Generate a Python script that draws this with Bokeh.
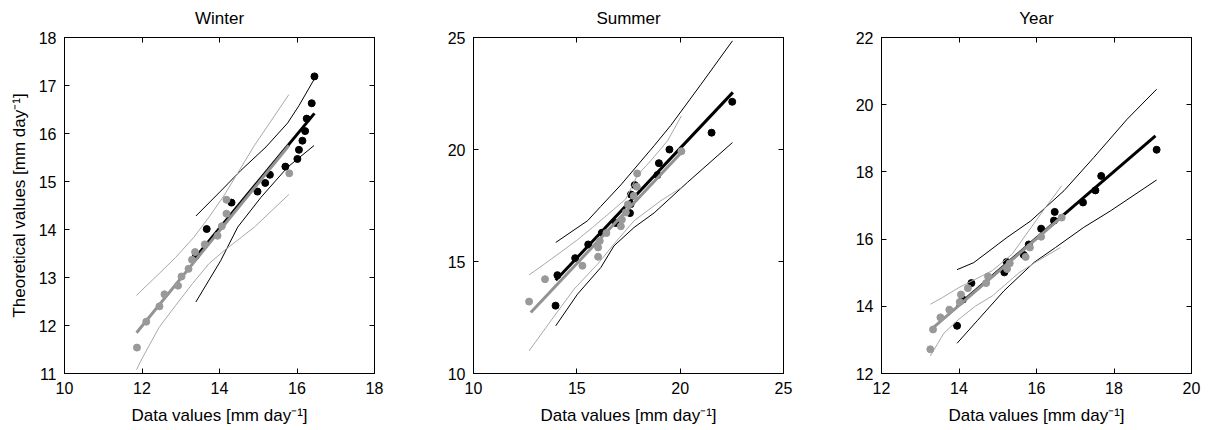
from bokeh.plotting import figure
from bokeh.layouts import row
from bokeh.models import LinearAxis, FixedTicker, CustomLabelingPolicy
from bokeh.embed import file_html
from bokeh.resources import INLINE

# ---------------- Winter ----------------
w_black_x = [13.39, 13.67, 14.31, 14.98, 15.18, 15.30, 15.70, 16.01, 16.05, 16.14, 16.21, 16.25, 16.38, 16.45]
w_black_y = [13.45, 14.01, 14.56, 14.79, 14.97, 15.14, 15.31, 15.47, 15.66, 15.85, 16.05, 16.31, 16.63, 17.19]
w_gray_x = [11.87, 12.11, 12.45, 12.58, 12.93, 13.02, 13.20, 13.29, 13.37, 13.62, 13.95, 14.06, 14.18, 14.18, 15.80]
w_gray_y = [11.54, 12.08, 12.40, 12.65, 12.83, 13.02, 13.18, 13.37, 13.53, 13.69, 13.87, 14.07, 14.33, 14.62, 15.17]
w_black_fit_x = [13.39, 16.45]
w_black_fit_y = [13.43, 16.42]
w_gray_fit_x = [11.86, 15.79]
w_gray_fit_y = [11.85, 15.75]
w_black_up_x = [13.39, 14.03, 14.55, 15.20, 15.76, 16.05, 16.45]
w_black_up_y = [14.28, 14.80, 15.23, 15.72, 16.22, 16.58, 17.14]
w_black_lo_x = [13.39, 14.03, 14.47, 15.07, 15.76, 16.44]
w_black_lo_y = [12.49, 13.35, 14.05, 14.67, 15.30, 15.75]
w_gray_up_x = [11.86, 12.44, 12.87, 13.34, 13.73, 14.12, 14.90, 15.79]
w_gray_up_y = [12.63, 13.08, 13.42, 13.84, 14.26, 14.71, 15.75, 16.81]
w_gray_lo_x = [11.86, 12.00, 12.44, 12.87, 13.30, 13.73, 14.12, 14.90, 15.79]
w_gray_lo_y = [11.08, 11.31, 11.96, 12.42, 12.87, 13.29, 13.56, 14.05, 14.73]

# ---------------- Summer ----------------
s_black_x = [13.97, 14.06, 14.92, 15.55, 16.21, 16.88, 17.57, 17.60, 17.62, 17.80, 18.90, 18.97, 19.48, 21.52, 22.52]
s_black_y = [13.03, 14.39, 15.15, 15.76, 16.28, 16.72, 17.16, 17.56, 17.99, 18.41, 18.86, 19.39, 20.00, 20.75, 22.13]
s_gray_x = [12.69, 13.46, 15.27, 16.03, 16.03, 16.11, 16.43, 17.13, 17.18, 17.37, 17.47, 17.75, 17.90, 17.92, 20.06]
s_gray_y = [13.21, 14.21, 14.81, 15.21, 15.63, 15.92, 16.27, 16.57, 16.87, 17.19, 17.55, 17.93, 18.34, 18.93, 19.92]
s_black_fit_x = [13.98, 22.55]
s_black_fit_y = [14.16, 22.55]
s_gray_fit_x = [12.77, 20.06]
s_gray_fit_y = [12.72, 19.87]
s_black_up_x = [13.98, 15.52, 16.16, 17.13, 18.74, 19.55, 21.00, 22.53]
s_black_up_y = [15.85, 16.82, 17.46, 18.42, 20.17, 21.08, 22.90, 24.85]
s_black_lo_x = [13.98, 15.03, 16.16, 16.80, 17.77, 18.74, 20.35, 22.53]
s_black_lo_y = [12.13, 13.54, 14.73, 15.70, 16.52, 17.17, 18.53, 20.31]
s_gray_up_x = [12.69, 13.42, 14.14, 15.00, 15.76, 16.50, 17.37, 17.93, 18.58, 19.39, 20.06]
s_gray_up_y = [14.40, 14.88, 15.36, 15.95, 16.52, 17.10, 17.79, 18.85, 19.50, 20.39, 21.50]
s_gray_lo_x = [12.69, 13.74, 14.87, 16.00, 16.80, 17.77, 19.06, 20.06]
s_gray_lo_y = [11.01, 12.35, 13.77, 14.88, 15.78, 16.82, 17.71, 18.30]

# ---------------- Year ----------------
y_black_x = [13.95, 14.10, 14.32, 15.17, 15.23, 15.67, 15.80, 16.12, 16.45, 16.47, 17.20, 17.52, 17.67, 19.10]
y_black_y = [13.42, 14.20, 14.69, 15.01, 15.32, 15.53, 15.84, 16.31, 16.55, 16.81, 17.09, 17.45, 17.88, 18.66]
y_gray_x = [13.26, 13.33, 13.52, 13.75, 14.02, 14.05, 14.23, 14.70, 14.75, 15.24, 15.31, 15.72, 15.83, 16.12, 16.65]
y_gray_y = [12.72, 13.31, 13.67, 13.90, 14.13, 14.35, 14.54, 14.69, 14.89, 15.11, 15.28, 15.47, 15.75, 16.07, 16.64]
y_black_fit_x = [13.95, 19.07]
y_black_fit_y = [14.00, 19.07]
y_gray_fit_x = [13.29, 16.65]
y_gray_fit_y = [13.32, 16.66]
y_black_up_x = [13.95, 14.38, 15.24, 15.85, 16.71, 17.48, 18.34, 19.10]
y_black_up_y = [15.09, 15.30, 16.05, 16.54, 17.44, 18.43, 19.57, 20.46]
y_black_lo_x = [13.95, 14.47, 15.16, 15.93, 16.49, 17.22, 17.91, 19.10]
y_black_lo_y = [12.90, 13.57, 14.46, 15.30, 15.75, 16.35, 16.84, 17.76]
y_gray_up_x = [13.26, 13.57, 14.00, 14.43, 14.86, 15.37, 15.74, 16.23, 16.65]
y_gray_up_y = [14.06, 14.26, 14.56, 14.81, 15.06, 15.55, 16.15, 16.94, 17.59]
y_gray_lo_x = [13.26, 13.61, 14.00, 14.43, 14.86, 15.55, 16.00, 16.62]
y_gray_lo_y = [12.52, 13.20, 13.62, 14.01, 14.31, 15.00, 15.33, 15.75]

titles = ["Winter", "Summer", "Year"]
x_ticks = [[10, 12, 14, 16, 18], [10, 15, 20, 25], [12, 14, 16, 18, 20]]
y_ticks = [[11, 12, 13, 14, 15, 16, 17, 18], [10, 15, 20, 25], [12, 14, 16, 18, 20, 22]]
x_label = "Data values [mm day\u207b\u00b9]"
y_label = "Theoretical values [mm day\u207b\u00b9]"

FONT = "Liberation Sans"
GRAY = "#999999"
GRAY_LINE = "#939393"
GRAY_BAND = "#a8a8a8"

NO_LABELS = """
const all = Array.from(indices)
for (const i of all) indices.unset(i)
return indices
"""


def make_panel(idx, data, borders):
    (bx, by, gx, gy, bfx, bfy, gfx, gfy, bux, buy, blx, bly, gux, guy, glx, gly) = data
    xt, yt = x_ticks[idx], y_ticks[idx]
    left, right = borders
    p = figure(frame_width=310, frame_height=336,
               x_range=(xt[0], xt[-1]), y_range=(yt[0], yt[-1]),
               output_backend="svg", toolbar_location=None,
               min_border_left=left, min_border_right=right,
               min_border_top=37, min_border_bottom=57,
               title=titles[idx])
    p.title.align = "center"
    p.title.text_font = FONT
    p.title.text_font_size = "17px"
    p.title.text_font_style = "normal"
    p.title.text_color = "black"
    p.title.standoff = 12
    p.grid.visible = False
    p.outline_line_color = "black"
    p.outline_line_width = 1
    p.background_fill_color = "white"
    p.border_fill_color = "white"

    for ax in (p.xaxis[0], p.yaxis[0]):
        ax.major_tick_in = 5
        ax.major_tick_out = 0
        ax.minor_tick_in = 0
        ax.minor_tick_out = 0
        ax.major_label_text_font = FONT
        ax.major_label_text_font_size = "16px"
        ax.major_label_text_color = "black"
        ax.axis_label_text_font = FONT
        ax.axis_label_text_font_size = "17px"
        ax.axis_label_text_font_style = "normal"
        ax.axis_label_text_color = "black"
        ax.axis_line_color = "black"
        ax.major_tick_line_color = "black"
    p.xaxis[0].ticker = FixedTicker(ticks=xt)
    p.yaxis[0].ticker = FixedTicker(ticks=yt)
    p.xaxis[0].axis_label = x_label
    p.xaxis[0].major_label_standoff = 8
    p.xaxis[0].axis_label_standoff = 9
    p.yaxis[0].major_label_standoff = 8
    if idx == 0:
        p.yaxis[0].axis_label = y_label
        p.yaxis[0].axis_label_standoff = 7

    top = LinearAxis(ticker=FixedTicker(ticks=xt), major_tick_in=5, major_tick_out=0,
                     minor_tick_in=0, minor_tick_out=0, major_label_text_font_size="1px",
                     major_label_standoff=0, axis_line_color="black",
                     major_label_policy=CustomLabelingPolicy(code=NO_LABELS))
    rgt = LinearAxis(ticker=FixedTicker(ticks=yt), major_tick_in=5, major_tick_out=0,
                     minor_tick_in=0, minor_tick_out=0, major_label_text_font_size="1px",
                     major_label_standoff=0, axis_line_color="black",
                     major_label_policy=CustomLabelingPolicy(code=NO_LABELS))
    p.add_layout(top, "above")
    p.add_layout(rgt, "right")

    # black series
    p.line(bux, buy, line_color="black", line_width=1)
    p.line(blx, bly, line_color="black", line_width=1)
    p.line(bfx, bfy, line_color="black", line_width=3)
    p.scatter(bx, by, size=7, fill_color="black", line_color="black")
    # gray series
    p.line(gux, guy, line_color=GRAY_BAND, line_width=1)
    p.line(glx, gly, line_color=GRAY_BAND, line_width=1)
    p.line(gfx, gfy, line_color=GRAY_LINE, line_width=3)
    p.scatter(gx, gy, size=7, fill_color=GRAY, line_color=GRAY)
    return p


p1 = make_panel(0, (w_black_x, w_black_y, w_gray_x, w_gray_y, w_black_fit_x, w_black_fit_y,
                    w_gray_fit_x, w_gray_fit_y, w_black_up_x, w_black_up_y, w_black_lo_x, w_black_lo_y,
                    w_gray_up_x, w_gray_up_y, w_gray_lo_x, w_gray_lo_y), (64, 26))
p2 = make_panel(1, (s_black_x, s_black_y, s_gray_x, s_gray_y, s_black_fit_x, s_black_fit_y,
                    s_gray_fit_x, s_gray_fit_y, s_black_up_x, s_black_up_y, s_black_lo_x, s_black_lo_y,
                    s_gray_up_x, s_gray_up_y, s_gray_lo_x, s_gray_lo_y), (73, 17))
p3 = make_panel(2, (y_black_x, y_black_y, y_gray_x, y_gray_y, y_black_fit_x, y_black_fit_y,
                    y_gray_fit_x, y_gray_fit_y, y_black_up_x, y_black_up_y, y_black_lo_x, y_black_lo_y,
                    y_gray_up_x, y_gray_up_y, y_gray_lo_x, y_gray_lo_y), (81, 17))

layout = row(p1, p2, p3)
open("out.html", "w").write(file_html(layout, INLINE))
